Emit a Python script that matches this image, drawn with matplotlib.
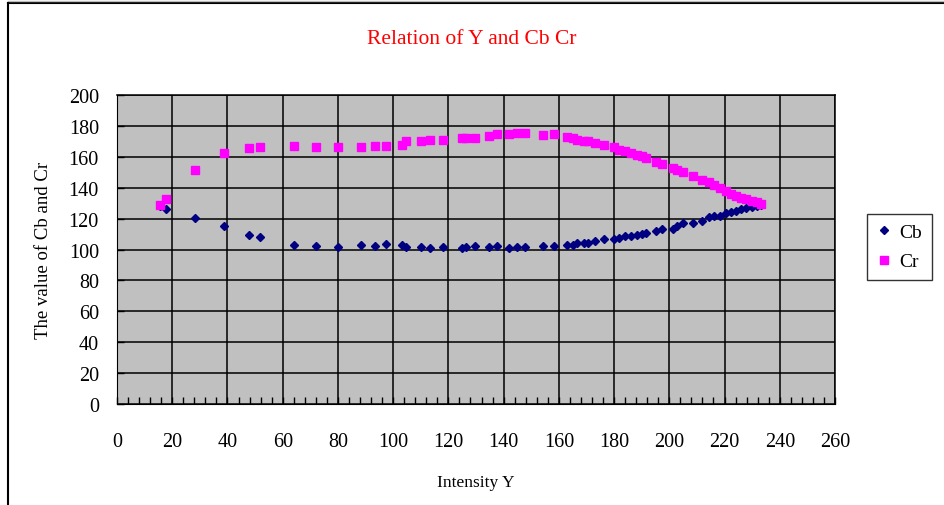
import numpy as np
import matplotlib.pyplot as plt
from matplotlib.lines import Line2D
from matplotlib.ticker import MultipleLocator

# Intensity Y and the matching Cb / Cr values
intensity_y = [15.6, 17.8, 28.4, 38.7, 47.8, 51.9, 64.0, 71.9, 80.1, 88.3,
               93.3, 97.4, 103.1, 104.7, 110.1, 113.4, 118.2, 125.0, 126.5, 129.8,
               134.8, 137.7, 142.0, 145.0, 147.9, 154.4, 158.1, 163.1, 165.2, 166.5,
               169.2, 170.6, 173.0, 176.3, 179.8, 181.7, 184.0, 186.1, 188.3, 190.0,
               191.6, 195.2, 197.3, 201.2, 202.9, 204.9, 208.4, 211.8, 214.5, 216.3,
               218.3, 220.6, 222.5, 224.3, 226.1, 227.9, 230.0, 231.8, 233.3]
cb_values = [128.0, 126.5, 120.5, 115.0, 109.5, 108.0, 103.0, 102.3, 101.6, 102.9,
             102.3, 103.6, 102.9, 101.4, 101.6, 100.8, 101.6, 100.8, 101.6, 102.5,
             101.6, 102.3, 100.8, 101.4, 101.4, 102.3, 102.3, 102.9, 102.9, 104.2,
             104.2, 104.4, 105.7, 106.5, 107.0, 107.2, 108.5, 108.7, 109.4, 109.8,
             110.7, 112.0, 113.5, 113.0, 115.4, 116.9, 117.2, 118.6, 120.8, 121.4,
             121.9, 123.4, 124.0, 125.1, 126.2, 126.9, 127.7, 128.4, 129.0]
cr_values = [129.0, 133.0, 151.5, 162.5, 165.5, 166.3, 167.0, 166.3, 166.3, 166.3,
             167.0, 167.0, 167.6, 170.4, 170.4, 171.0, 171.0, 172.4, 172.4, 172.4,
             173.2, 174.6, 174.8, 175.4, 175.4, 174.1, 174.8, 172.6, 172.2, 171.0,
             170.4, 170.4, 168.9, 167.6, 166.1, 164.6, 164.0, 162.7, 161.2, 160.3,
             159.0, 156.8, 155.3, 152.5, 151.2, 149.9, 147.3, 145.0, 143.4, 141.7,
             139.6, 137.9, 135.7, 134.4, 133.5, 132.7, 131.6, 130.5, 129.4]

plt.rcParams['font.family'] = ['Liberation Serif', 'DejaVu Serif']

fig = plt.figure(figsize=(9.44, 5.06), dpi=100)
ax = fig.add_axes([117/944, 1-405/506, (835-117)/944, (405-96)/506])
ax.set_facecolor('#C0C0C0')

ax.plot(intensity_y, cb_values, linestyle='none', marker='D', markersize=4.5,
        color='#000080', label='Cb', zorder=3)
ax.plot(intensity_y, cr_values, linestyle='none', marker='s', markersize=5.5,
        color='#FF00FF', label='Cr', zorder=3)

ax.set_xlim(0, 260)
ax.set_ylim(0, 200)
ax.xaxis.set_major_locator(MultipleLocator(20))
ax.xaxis.set_minor_locator(MultipleLocator(4))
ax.yaxis.set_major_locator(MultipleLocator(20))
ax.grid(True, which='major', color='black', linewidth=1.1)
ax.set_axisbelow(True)
for side in ['top', 'right', 'left', 'bottom']:
    ax.spines[side].set_color('black')
ax.spines['top'].set_linewidth(1.1)
ax.spines['right'].set_linewidth(1.1)

ax.tick_params(axis='x', which='both', direction='in', length=5, width=1,
               pad=20, labelsize=14.5, top=False)
ax.tick_params(axis='y', which='major', direction='in', length=5, width=1,
               pad=13, labelsize=14.5, right=False)

ax.set_xlabel('Intensity Y', fontsize=12.5, labelpad=17)
ax.set_ylabel('The value of Cb and Cr', fontsize=13.5, labelpad=12)

fig.text(472/944, 1-40/506, 'Relation of Y and Cb Cr', color='#FF0000',
         fontsize=15.5, ha='center', va='center')

leg = fig.legend(loc='center left', bbox_to_anchor=(867/944, 1-248/506),
                 fontsize=14, frameon=True, fancybox=False, edgecolor='black',
                 handlelength=0.7, handletextpad=0.45, borderpad=0.5,
                 labelspacing=0.6, borderaxespad=0)
leg.get_frame().set_linewidth(1.0)

# chart frame (top and left edges of the chart area)
fig.add_artist(Line2D([8/944, 1], [1-4/506, 1-4/506], color='black', linewidth=1.5))
fig.add_artist(Line2D([8/944, 1], [1-1.5/506, 1-1.5/506], color='#BBBBBB', linewidth=1))
fig.add_artist(Line2D([8/944, 8/944], [0, 1-4/506], color='black', linewidth=1.5))

fig.savefig('out.png', dpi=100)
